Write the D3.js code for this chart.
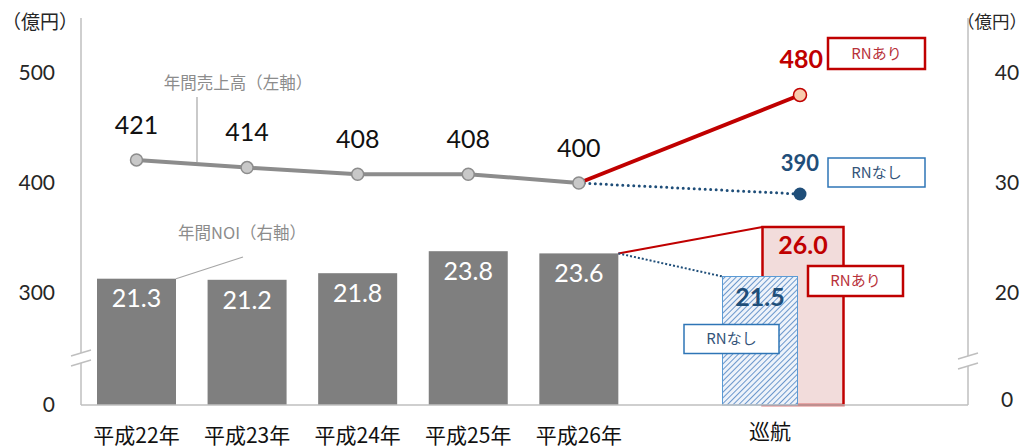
<html>
  <head>
    <meta charset="utf-8">
    <style>
      body { margin:0; background:#fff; }
      text { font-family: Lato, "Noto Sans CJK JP", sans-serif; }
      .jp { font-family: "Noto Sans CJK JP", sans-serif; }
      .tick { font-size:21px; fill:#262626; }
      .note { font-size:16.5px; fill:#8c8c8c; }
    </style>
    <script src="https://d3js.org/d3.v7.min.js"></script>
  </head>
  <body>
    <script>
      // data
      const years = ['平成22年','平成23年','平成24年','平成25年','平成26年']
      const sales = [421, 414, 408, 408, 400]      // 年間売上高 (left axis)
      const noi = [21.3, 21.2, 21.8, 23.8, 23.6]    // 年間NOI (right axis)
      const cruiseLabel = '巡航'
      const cruiseSales = {rn: 480, none: 390}
      const cruiseNoi = {rn: 26.0, none: 21.5}
      const leftTicks = [0, 300, 400, 500]
      const rightTicks = [0, 20, 30, 40]

      const W = 1032, H = 448
      const svg = d3.select('body').append('svg').attr('width', W).attr('height', H)
      const defs = svg.append('defs')
      const pat = defs.append('pattern').attr('id','hatch').attr('patternUnits','userSpaceOnUse')
        .attr('width',4).attr('height',4).attr('patternTransform','rotate(45)')
      pat.append('rect').attr('width',4).attr('height',4).attr('fill','#eef3fa')
      pat.append('line').attr('x1',0).attr('y1',0).attr('x2',0).attr('y2',4)
        .attr('stroke','#3f78bd').attr('stroke-width',1.5)

      const axL = 81, axR = 968, base = 405
      const slots = years.concat(['gap', cruiseLabel])
      const x = d3.scalePoint().domain(slots).range([136.5, 800])
      // broken axes: piecewise scales
      const yL = d3.scaleLinear().domain([0, 300, 500]).range([base, 293, 73])
      const yR = d3.scaleLinear().domain([0, 20, 40]).range([base, 293, 73])
      const bw = 79

      const red = '#c00000', navy = '#1f4e79', blue = '#2e75b6', grey = '#8c8c8c'

      // axes lines
      svg.append('line').attr('x1',axL).attr('x2',axL).attr('y1',18).attr('y2',base).attr('stroke','#bfbfbf').attr('stroke-width',1.5)
      svg.append('line').attr('x1',axR).attr('x2',axR).attr('y1',18).attr('y2',base).attr('stroke','#bfbfbf').attr('stroke-width',1.5)

      // tick labels
      svg.append('g').selectAll('text').data(leftTicks).join('text')
        .attr('class','tick').attr('x',55).attr('y',d => yL(d)).attr('text-anchor','end').attr('dy','0.35em')
        .text(d => d)
      svg.append('g').selectAll('text').data(rightTicks).join('text')
        .attr('class','tick').attr('x',1007).attr('y',d => yR(d) - (d === 0 ? 5 : 0)).attr('text-anchor','middle').attr('dy','0.35em')
        .text(d => d)
      svg.append('text').attr('class','jp tick').attr('x',40).attr('y',22).attr('text-anchor','middle').attr('dy','0.35em').style('font-size','19px').text('（億円）')
      svg.append('text').attr('class','jp tick').attr('x',992).attr('y',22).attr('text-anchor','middle').attr('dy','0.35em').style('font-size','17.5px').text('（億円）')

      // NOI bars
      svg.append('g').selectAll('rect').data(noi).join('rect')
        .attr('x',(d,i) => x(years[i]) - bw/2).attr('y',d => yR(d))
        .attr('width',bw).attr('height',d => base - yR(d)).attr('fill','#7f7f7f')
      svg.append('g').selectAll('text').data(noi).join('text')
        .attr('x',(d,i) => x(years[i])).attr('y',d => yR(d) + 20).attr('dy','0.35em')
        .attr('text-anchor','middle').attr('fill','#fff').style('font-size','25px')
        .text(d => d.toFixed(1))

      // cruise bars
      const xc = x(cruiseLabel)
      const redX = xc + 2 - bw/2, blueX = xc - 40 - 75/2
      svg.append('rect').attr('x',redX).attr('y',yR(cruiseNoi.rn)).attr('width',bw+2).attr('height',base - yR(cruiseNoi.rn))
        .attr('fill','#f2dcdb').attr('stroke',red).attr('stroke-width',2.5)
      svg.append('rect').attr('x',blueX).attr('y',yR(cruiseNoi.none)).attr('width',75).attr('height',base - yR(cruiseNoi.none))
        .attr('fill','url(#hatch)').attr('stroke','#5b9bd5').attr('stroke-width',1)
      const lastX = x(years[4]) + bw/2, lastY = yR(noi[4])
      svg.append('line').attr('x1',lastX).attr('y1',lastY).attr('x2',redX).attr('y2',yR(cruiseNoi.rn))
        .attr('stroke',red).attr('stroke-width',2)
      svg.append('line').attr('x1',lastX).attr('y1',lastY).attr('x2',blueX).attr('y2',yR(cruiseNoi.none))
        .attr('stroke',navy).attr('stroke-width',2).attr('stroke-dasharray','2,2')
      svg.append('text').attr('x',redX + (bw+2)/2).attr('y',yR(cruiseNoi.rn) + 18).attr('dy','0.35em')
        .attr('text-anchor','middle').attr('fill',red).style('font-size','25px').style('font-weight','bold').text(cruiseNoi.rn.toFixed(1))
      svg.append('text').attr('x',blueX + 75/2).attr('y',yR(cruiseNoi.none) + 21).attr('dy','0.35em')
        .attr('text-anchor','middle').attr('fill',navy).style('font-size','25px').style('font-weight','bold').text(cruiseNoi.none.toFixed(1))

      // baseline
      svg.append('line').attr('x1',axL).attr('x2',axR).attr('y1',base).attr('y2',base).attr('stroke','#bfbfbf').attr('stroke-width',1.5)

      // axis breaks
      function brk(cx, cy){
        svg.append('rect').attr('x',cx-9).attr('y',cy-5).attr('width',18).attr('height',10).attr('fill','#fff')
        ;[-5, 5].forEach(o => svg.append('line').attr('x1',cx-10).attr('y1',cy+o+3).attr('x2',cx+10).attr('y2',cy+o-3)
          .attr('stroke','#bfbfbf').attr('stroke-width',1.5))
      }
      brk(axL, 358)
      brk(axR, 361)

      // sales line
      const line = d3.line().x(d => x(d.k)).y(d => yL(d.v))
      const pts = sales.map((v,i) => ({k: years[i], v}))
      const last = pts[pts.length-1]
      svg.append('path').attr('d', line([last, {k: cruiseLabel, v: cruiseSales.none}]))
        .attr('fill','none').attr('stroke',navy).attr('stroke-width',3).attr('stroke-dasharray','0,5.5').attr('stroke-linecap','round')
      svg.append('path').attr('d', line([last, {k: cruiseLabel, v: cruiseSales.rn}]))
        .attr('fill','none').attr('stroke',red).attr('stroke-width',4)
      svg.append('path').attr('d', line(pts)).attr('fill','none').attr('stroke',grey).attr('stroke-width',4)
      svg.append('g').selectAll('circle').data(pts).join('circle')
        .attr('cx',d => x(d.k)).attr('cy',d => yL(d.v)).attr('r',6)
        .attr('fill','#c8c8c8').attr('stroke',grey).attr('stroke-width',1.5)
      svg.append('g').selectAll('text').data(pts).join('text')
        .attr('x',d => x(d.k)).attr('y',d => yL(d.v) - 35).attr('dy','0.35em')
        .attr('text-anchor','middle').attr('fill','#111').style('font-size','25px').text(d => d.v)
      svg.append('circle').attr('cx',xc).attr('cy',yL(cruiseSales.rn)).attr('r',6.5)
        .attr('fill','#f8cbad').attr('stroke',red).attr('stroke-width',1.5)
      svg.append('circle').attr('cx',xc).attr('cy',yL(cruiseSales.none)).attr('r',6.5).attr('fill',navy)
      svg.append('text').attr('x',xc + 23).attr('y',yL(cruiseSales.rn) - 36).attr('dy','0.35em').attr('text-anchor','end')
        .attr('fill',red).style('font-size','25px').style('font-weight','bold').text(cruiseSales.rn)
      svg.append('text').attr('x',xc + 19).attr('y',yL(cruiseSales.none) - 31).attr('dy','0.35em').attr('text-anchor','end')
        .attr('fill',navy).style('font-size','22px').style('font-weight','bold').text(cruiseSales.none)

      // tag boxes
      function tag(x0, y0, w, h, color, txt, sw, tc){
        svg.append('rect').attr('x',x0).attr('y',y0).attr('width',w).attr('height',h)
          .attr('fill','#fff').attr('stroke',color).attr('stroke-width',sw)
        svg.append('text').attr('class','jp').attr('x',x0 + w/2).attr('y',y0 + h/2).attr('dy','0.35em')
          .attr('text-anchor','middle').attr('fill',tc).style('font-size','15px').text(txt)
      }
      tag(xc + 28, yL(cruiseSales.rn) - 57, 97, 31, red, 'RNあり', 2.5, '#b8323a')
      tag(xc + 28, yL(cruiseSales.none) - 36, 97, 29, blue, 'RNなし', 1.5, '#35557a')
      tag(xc + 8, yR(cruiseNoi.rn) + 39, 95, 30, red, 'RNあり', 2.5, '#b8323a')
      tag(xc - 116, yR(cruiseNoi.none) + 48, 95, 29, blue, 'RNなし', 1.5, '#35557a')

      // series notes
      svg.append('text').attr('class','jp note').attr('x',238).attr('y',83).attr('dy','0.35em').attr('text-anchor','middle').text('年間売上高（左軸）')
      svg.append('line').attr('x1',197).attr('x2',197).attr('y1',97).attr('y2',yL(sales[0]) + 2).attr('stroke','#a6a6a6').attr('stroke-width',1.2)
      svg.append('text').attr('class','jp note').attr('x',242).attr('y',233).attr('dy','0.35em').attr('text-anchor','middle').text('年間NOI（右軸）')
      svg.append('line').attr('x1',x(years[0]) + bw/2).attr('y1',yR(noi[0])).attr('x2',243).attr('y2',257).attr('stroke','#a6a6a6').attr('stroke-width',1.2)

      // category labels
      svg.append('g').selectAll('text').data(years).join('text')
        .attr('class','jp').attr('x',d => x(d)).attr('y',436).attr('dy','0.35em').attr('text-anchor','middle')
        .attr('fill','#111').style('font-size','21px').text(d => d)
      svg.append('text').attr('class','jp').attr('x',xc - 30).attr('y',432).attr('dy','0.35em').attr('text-anchor','middle')
        .attr('fill','#111').style('font-size','21px').text(cruiseLabel)
    </script>
  </body>
</html>
